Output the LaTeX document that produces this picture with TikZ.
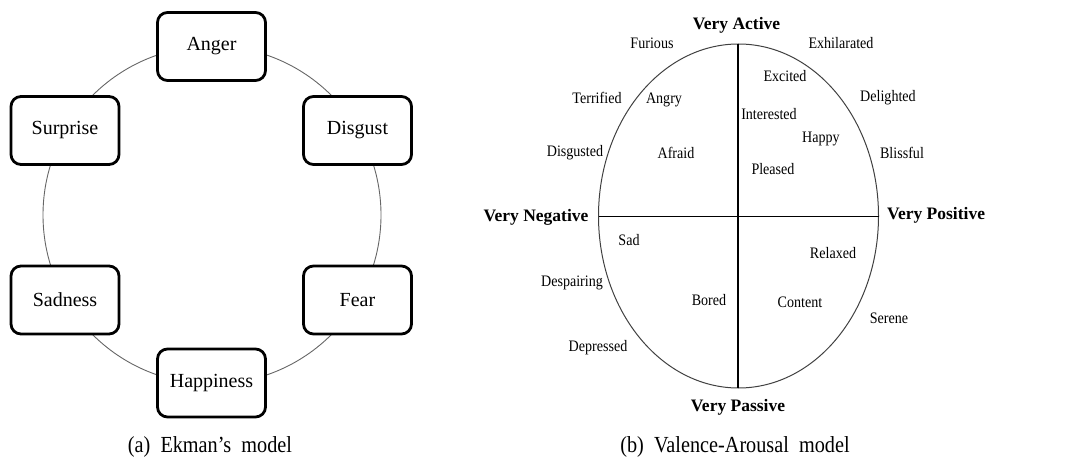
\documentclass[tikz,border=0pt]{standalone}
\usepackage{fontspec}
\setmainfont{Liberation Serif}
\newfontfamily\narrowserif[FakeStretch=0.88]{Liberation Serif}
\begin{document}
\begin{tikzpicture}[x=1pt,y=-1pt,
  emo/.style={draw, line width=2.8pt, rounded corners=10pt, fill=white,
    minimum width=108pt, minimum height=68pt, inner sep=0pt,
    font=\fontsize{20}{22}\selectfont},
  ring/.style={draw=black!60, line width=0.9pt},
  oval/.style={draw=black!75, line width=1pt},
  axisline/.style={draw=black, line width=1.8pt},
  mood/.style={inner sep=0pt, font=\narrowserif\fontsize{16}{18}\selectfont},
  pole/.style={inner sep=0pt, font=\bfseries\fontsize{17.5}{20}\selectfont},
  captext/.style={inner sep=0pt, font=\narrowserif\fontsize{23}{26}\selectfont}]
\useasboundingbox (0,0) rectangle (1079,462);
% ---- (a) Ekman's model
\draw[ring] (212,215) circle[radius=169];
\node[emo] (anger) at (211.5,46.5) {Anger};
\node[emo] (disgust) at (357.5,130.5) {Disgust};
\node[emo] (fear) at (357.5,300) {Fear};
\node[emo] (happiness) at (211.5,383) {Happiness};
\node[emo] (sadness) at (65,300) {Sadness};
\node[emo] (surprise) at (65,130.5) {Surprise};
\node[captext] (capa) at (210,447) {(a)~~Ekman’s~~model};
% ---- (b) Valence-Arousal model
\draw[oval] (738.5,216) ellipse[x radius=140, y radius=172];
\coordinate (vtop) at (738,44);
\coordinate (vbot) at (738,388);
\coordinate (hleft) at (598.5,216.5);
\coordinate (hright) at (878.5,216.5);
\draw[axisline] (vtop) -- (vbot);
\draw[axisline] (hleft) -- (hright);
\node[pole] (active) at (736.5,25) {Very Active};
\node[pole] (passive) at (738,407) {Very Passive};
\node[pole] (negative) at (536,217) {Very Negative};
\node[pole] (positive) at (936,215) {Very Positive};
\node[mood] (furious) at (652,43) {Furious};
\node[mood] (exhilarated) at (841,43) {Exhilarated};
\node[mood] (excited) at (785,76) {Excited};
\node[mood] (terrified) at (597,98) {Terrified};
\node[mood] (angry) at (664,100) {Angry};
\node[mood] (delighted) at (888,98) {Delighted};
\node[mood] (interested) at (769,114) {Interested};
\node[mood] (happy) at (821,139) {Happy};
\node[mood] (disgusted) at (575,153) {Disgusted};
\node[mood] (afraid) at (676,153) {Afraid};
\node[mood] (blissful) at (902,153) {Blissful};
\node[mood] (pleased) at (773,169) {Pleased};
\node[mood] (sad) at (629,240) {Sad};
\node[mood] (relaxed) at (833,253) {Relaxed};
\node[mood] (despairing) at (572,283) {Despairing};
\node[mood] (bored) at (709,300) {Bored};
\node[mood] (content) at (800,302) {Content};
\node[mood] (serene) at (889,318) {Serene};
\node[mood] (depressed) at (598,348) {Depressed};
\node[captext] (capb) at (735,447) {(b)~~Valence-Arousal~~model};
\end{tikzpicture}
\end{document}
